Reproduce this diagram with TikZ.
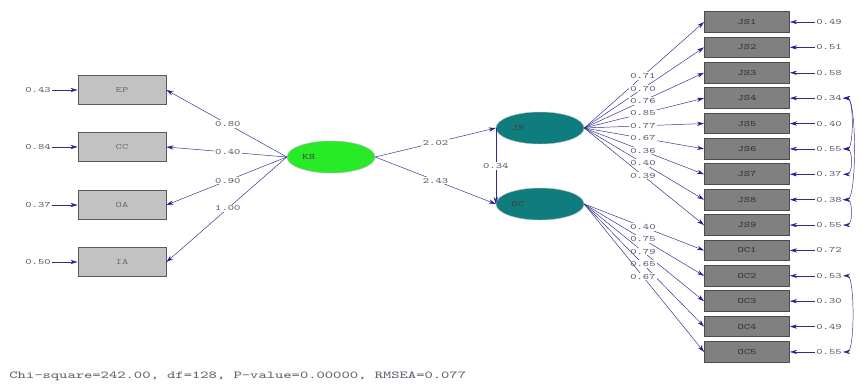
\documentclass[tikz,border=0pt]{standalone}
\usetikzlibrary{arrows.meta,positioning,calc,shapes.geometric}
\definecolor{pathblue}{RGB}{45,45,140}
\definecolor{tipblue}{RGB}{30,30,160}
\definecolor{valgray}{RGB}{95,95,110}
\definecolor{ksgreen}{RGB}{40,235,40}
\definecolor{lvteal}{RGB}{15,125,125}
\newcommand{\lis}[1]{\scalebox{1.45}[1]{#1}}
\tikzset{
    arr/.style={->,>={Stealth[length=6pt,width=3.6pt,color=tipblue]},thin,pathblue},
    darr/.style={<->,>={Stealth[length=6pt,width=3.6pt,color=tipblue]},thin,pathblue},
    val/.style={font=\fontsize{7}{8}\selectfont\ttfamily,text=valgray,inner sep=1pt},
    lbox/.style={draw=black!65,thick,fill=black!24,minimum width=2.64cm,minimum height=0.86cm,
        font=\fontsize{7}{8}\selectfont\ttfamily,text=black!55},
    rbox/.style={draw=black!70,thick,fill=black!50,minimum width=2.55cm,minimum height=0.62cm,
        font=\fontsize{7}{8}\selectfont\ttfamily,text=black!80},
    latent/.style={ellipse,draw=black!30,minimum width=2.64cm,minimum height=0.96cm,inner sep=0pt},
}

\begin{document}
\begin{tikzpicture}[x=0.03cm,y=-0.03cm]
    \useasboundingbox (0,0) rectangle (862,383);

    % latent variables
    \node[latent,fill=ksgreen] (KS) at (331,157) {};
    \node[val,text=black!75] (KSname) at ($(KS.west)+(22,0)$) {\lis{KS}};
    \node[latent,fill=lvteal] (JS) at (540,128) {};
    \node[val,text=black!75] (JSname) at ($(JS.west)+(22,0)$) {\lis{JS}};
    \node[latent,fill=lvteal] (OC) at (540,204) {};
    \node[val,text=black!75] (OCname) at ($(OC.west)+(22,0)$) {\lis{OC}};

    % left indicators
    \foreach \nm/\y/\ev/\ld in {EP/90/0.43/0.80, CC/147/0.84/0.40, OA/205/0.37/0.90, IA/262/0.50/1.00}{
        \node[lbox] (\nm) at (122,\y) {\lis{\nm}};
        \node[val] (e\nm) at (38,\y) {\lis{\ev}};
        \draw[arr] (e\nm) -- (\nm);
        \draw[arr] (KS.west) -- (\nm.east) node[val,pos=.49,fill=white] {\lis{\ld}};
    }

    % right indicators
    \foreach \i/\nm/\ev in {1/JS1/0.49, 2/JS2/0.51, 3/JS3/0.58, 4/JS4/0.34, 5/JS5/0.40,
            6/JS6/0.55, 7/JS7/0.37, 8/JS8/0.38, 9/JS9/0.55, 10/OC1/0.72,
            11/OC2/0.53, 12/OC3/0.30, 13/OC4/0.49, 14/OC5/0.55}{
        \node[rbox] (\nm) at (747,{22+(\i-1)*25.38}) {\lis{\nm}};
        \node[val] (e\nm) at (829,{22+(\i-1)*25.38}) {\lis{\ev}};
        \draw[arr] (e\nm) -- (\nm);
    }

    \foreach \nm/\ld in {JS1/0.71, JS2/0.70, JS3/0.76, JS4/0.85, JS5/0.77,
            JS6/0.67, JS7/0.36, JS8/0.40, JS9/0.39}
        \draw[arr] (JS.east) -- (\nm.west) node[val,pos=.49,fill=white] {\lis{\ld}};
    \foreach \nm/\ld in {OC1/0.40, OC2/0.75, OC3/0.79, OC4/0.65, OC5/0.67}
        \draw[arr] (OC.east) -- (\nm.west) node[val,pos=.49,fill=white] {\lis{\ld}};

    % structural paths
    \draw[arr] (KS.east) -- (JS.west) node[val,midway,fill=white] {\lis{2.02}};
    \draw[arr] (KS.east) -- (OC.west) node[val,midway,fill=white] {\lis{2.43}};
    \draw[arr] (JS.west) -- (OC.west) node[val,midway,fill=white] {\lis{0.34}};

    % error covariances
    \draw[darr] (eJS4.east) to[out=0,in=0,looseness=0.55] (eJS6.east);
    \draw[darr] (eJS4.east) to[out=0,in=0,looseness=0.35] (eJS8.east);
    \draw[darr] (eJS6.east) to[out=0,in=0,looseness=1] (eJS7.east);
    \draw[darr] (eJS8.east) to[out=0,in=0,looseness=1] (eJS9.east);
    \draw[darr] (eOC2.east) to[out=0,in=0,looseness=0.4] (eOC5.east);

    % fit statistics
    \node[val,anchor=west,font=\fontsize{9}{10}\selectfont\ttfamily] (fit) at (8,376)
        {\scalebox{1.5}[1]{Chi-square=242.00, df=128, P-value=0.00000, RMSEA=0.077}};
\end{tikzpicture}
\end{document}
